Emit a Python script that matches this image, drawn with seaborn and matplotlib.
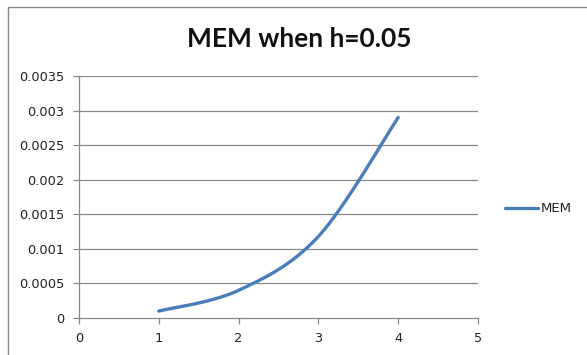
import numpy as np
import pandas as pd
import matplotlib
matplotlib.use("Agg")
import matplotlib.pyplot as plt
from matplotlib.patches import Rectangle
import seaborn as sns

# Series values
x_vals = [1, 2, 3, 4]
mem_vals = [0.0001, 0.0004, 0.00118, 0.0029]
series_name = "MEM"
title = "MEM when h=0.05"
x_ticks = [0, 1, 2, 3, 4, 5]
y_ticks = [0, 0.0005, 0.001, 0.0015, 0.002, 0.0025, 0.003, 0.0035]
y_tick_labels = ["0", "0.0005", "0.001", "0.0015", "0.002", "0.0025", "0.003", "0.0035"]


def smooth_curve(xs, ys, n=60):
    """Spreadsheet-style smoothed line: cubic Bezier segments with
    Catmull-Rom control points (tension 1/6)."""
    p = np.column_stack([xs, ys]).astype(float)
    p = np.vstack([p[0], p, p[-1]])
    out = []
    t = np.linspace(0, 1, n)[:, None]
    for i in range(1, len(p) - 2):
        p0, p1, p2, p3 = p[i - 1], p[i], p[i + 1], p[i + 2]
        c1 = p1 + (p2 - p0) / 6
        c2 = p2 - (p3 - p1) / 6
        seg = ((1 - t) ** 3) * p1 + 3 * ((1 - t) ** 2) * t * c1 + 3 * (1 - t) * t ** 2 * c2 + t ** 3 * p2
        out.append(seg if i == 1 else seg[1:])
    out = np.vstack(out)
    return out[:, 0], out[:, 1]


sx, sy = smooth_curve(x_vals, mem_vals)
df = pd.DataFrame({"x": sx, "value": sy, "series": series_name})

sns.set_style("white")
plt.rcParams["font.family"] = ["DejaVu Sans"]

W, H = 587, 355
fig = plt.figure(figsize=(W / 100, H / 100), dpi=100)
ax = fig.add_axes([79 / W, 1 - 318 / H, (478 - 79) / W, (318 - 76) / H])

sns.lineplot(data=df, x="x", y="value", hue="series", palette=["#4A7EBB"],
             linewidth=2.4, sort=False, ax=ax, legend=False)

ax.set_xlim(0, 5)
ax.set_ylim(0, 0.0035)
ax.set_xticks(x_ticks)
ax.set_xticklabels([str(v) for v in x_ticks])
ax.set_yticks(y_ticks)
ax.set_yticklabels(y_tick_labels)
ax.set_xlabel("")
ax.set_ylabel("")

grid_col = "#888888"
for v in y_ticks[1:]:
    ax.axhline(v, color=grid_col, linewidth=0.9, zorder=0)
for side in ["top", "right"]:
    ax.spines[side].set_visible(False)
for side in ["left", "bottom"]:
    ax.spines[side].set_color(grid_col)
    ax.spines[side].set_linewidth(0.9)
ax.tick_params(axis="both", direction="out", length=4.3, width=0.9,
               color=grid_col, labelsize=9.3, labelcolor="#222222",
               left=True, bottom=True)
ax.tick_params(axis="y", pad=6.5)
ax.tick_params(axis="x", pad=6)

fig.text(299 / W, 1 - 39 / H, title, ha="center", va="center",
         fontsize=19, fontweight="bold", color="#111111",
         family=["Lato", "DejaVu Sans"])

# Legend entry
ly = 1 - 208 / H
fig.add_artist(plt.Line2D([505 / W, 538 / W], [ly, ly], color="#4A7EBB",
                          linewidth=2.4, transform=fig.transFigure))
fig.text(541 / W, ly, series_name, ha="left", va="center", fontsize=9.5,
         color="#222222")

# Chart area border (left and top edges visible)
fig.add_artist(Rectangle((7.5 / W, -0.1), 1.2, 1 - 7.5 / H + 0.1,
                         transform=fig.transFigure, fill=False,
                         edgecolor="#888888", linewidth=1.0))

fig.savefig("out.png", dpi=100, facecolor="white")
